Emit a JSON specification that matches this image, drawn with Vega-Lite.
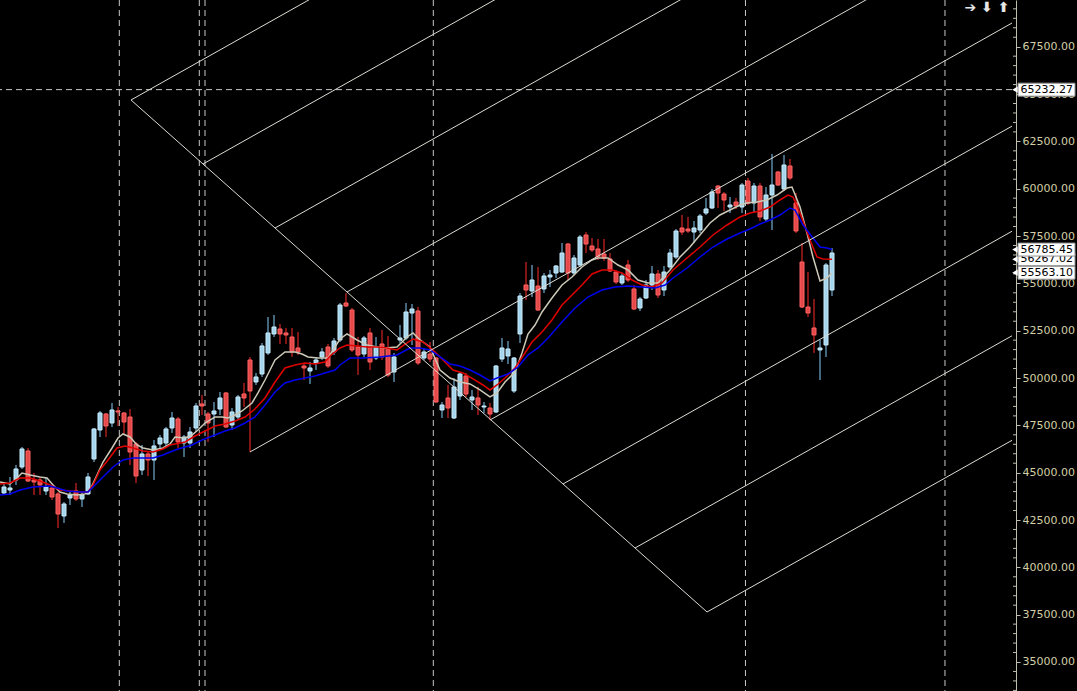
{
"$schema": "https://vega.github.io/schema/vega-lite/v6.json",
"width": 1012, "height": 691,
"autosize": {"type": "none"},
"padding": {"left": 0, "top": 0, "right": 65, "bottom": 0},
"background": "#000000",
"config": {"view": {"stroke": null}, "axis": {"grid": false}},
"datasets": {
"candles": [
{"t":0,"o":43928,"h":44508,"l":43822,"c":44244},
{"t":1,"o":44086,"h":44772,"l":43822,"c":44191},
{"t":2,"o":44614,"h":45406,"l":44350,"c":45195},
{"t":3,"o":45300,"h":46357,"l":45195,"c":46252},
{"t":4,"o":46146,"h":46304,"l":44508,"c":44561},
{"t":5,"o":44614,"h":44984,"l":43822,"c":44508},
{"t":6,"o":44614,"h":44719,"l":43822,"c":44350},
{"t":7,"o":44033,"h":44719,"l":43822,"c":44244},
{"t":8,"o":44191,"h":44350,"l":43557,"c":43716},
{"t":9,"o":43875,"h":43980,"l":42078,"c":42818},
{"t":10,"o":42712,"h":43451,"l":42343,"c":43346},
{"t":11,"o":43663,"h":43980,"l":43293,"c":43822},
{"t":12,"o":44033,"h":44456,"l":43504,"c":43610},
{"t":13,"o":43610,"h":43980,"l":43187,"c":43822},
{"t":14,"o":43875,"h":44984,"l":43822,"c":44772},
{"t":15,"o":45724,"h":47361,"l":45564,"c":47308},
{"t":16,"o":47255,"h":48258,"l":46885,"c":48153},
{"t":17,"o":48100,"h":48153,"l":46885,"c":47466},
{"t":18,"o":47625,"h":48681,"l":47413,"c":48311},
{"t":19,"o":48258,"h":48469,"l":47466,"c":48206},
{"t":20,"o":48153,"h":48206,"l":47044,"c":47677},
{"t":21,"o":47941,"h":48364,"l":45406,"c":46093},
{"t":22,"o":46516,"h":46621,"l":44456,"c":44825},
{"t":23,"o":45142,"h":46463,"l":44878,"c":45988},
{"t":24,"o":45988,"h":46093,"l":44825,"c":45670},
{"t":25,"o":45670,"h":46727,"l":44614,"c":46410},
{"t":26,"o":46516,"h":46991,"l":46304,"c":46832},
{"t":27,"o":46569,"h":47413,"l":46304,"c":47308},
{"t":28,"o":47361,"h":48206,"l":47097,"c":47888},
{"t":29,"o":47836,"h":47941,"l":46304,"c":46621},
{"t":30,"o":46569,"h":46991,"l":45829,"c":46885},
{"t":31,"o":46569,"h":47413,"l":46304,"c":47149},
{"t":32,"o":47361,"h":48681,"l":47149,"c":48522},
{"t":33,"o":48628,"h":49104,"l":48047,"c":48522},
{"t":34,"o":48100,"h":48206,"l":46621,"c":47625},
{"t":35,"o":48100,"h":48733,"l":46885,"c":48258},
{"t":36,"o":48364,"h":49262,"l":48047,"c":48945},
{"t":37,"o":49210,"h":49262,"l":47361,"c":47413},
{"t":38,"o":47519,"h":48416,"l":47255,"c":48206},
{"t":39,"o":47941,"h":49104,"l":47783,"c":48998},
{"t":40,"o":49157,"h":49738,"l":48469,"c":48945},
{"t":41,"o":50952,"h":51111,"l":46093,"c":49315},
{"t":42,"o":49790,"h":50266,"l":49632,"c":50054},
{"t":43,"o":50213,"h":51851,"l":50054,"c":51692},
{"t":44,"o":51323,"h":53223,"l":51217,"c":52379},
{"t":45,"o":52326,"h":53329,"l":52167,"c":52695},
{"t":46,"o":52590,"h":52854,"l":51798,"c":52326},
{"t":47,"o":52379,"h":52643,"l":51798,"c":52273},
{"t":48,"o":52167,"h":52643,"l":51111,"c":51375},
{"t":49,"o":51586,"h":52432,"l":51217,"c":51375},
{"t":50,"o":50635,"h":50794,"l":49896,"c":50530},
{"t":51,"o":50371,"h":50846,"l":49685,"c":50530},
{"t":52,"o":50794,"h":51111,"l":50424,"c":50952},
{"t":53,"o":51111,"h":51586,"l":50952,"c":51375},
{"t":54,"o":51639,"h":51798,"l":50530,"c":50635},
{"t":55,"o":51375,"h":52115,"l":51217,"c":51956},
{"t":56,"o":52009,"h":53963,"l":51903,"c":53857},
{"t":57,"o":53963,"h":54491,"l":53751,"c":53804},
{"t":58,"o":53593,"h":53698,"l":51375,"c":51481},
{"t":59,"o":51639,"h":52167,"l":50160,"c":51217},
{"t":60,"o":51270,"h":52220,"l":51111,"c":52115},
{"t":61,"o":52379,"h":52643,"l":50424,"c":50846},
{"t":62,"o":51058,"h":52167,"l":50952,"c":51639},
{"t":63,"o":51798,"h":52537,"l":50952,"c":51111},
{"t":64,"o":51586,"h":52220,"l":50054,"c":50160},
{"t":65,"o":50318,"h":51323,"l":49790,"c":51111},
{"t":66,"o":52009,"h":52801,"l":51851,"c":52115},
{"t":67,"o":52115,"h":53963,"l":52009,"c":53487},
{"t":68,"o":53434,"h":53910,"l":51745,"c":53645},
{"t":69,"o":53540,"h":53751,"l":50688,"c":50794},
{"t":70,"o":51058,"h":51586,"l":50952,"c":51375},
{"t":71,"o":51270,"h":51903,"l":50846,"c":51005},
{"t":72,"o":51058,"h":51111,"l":48681,"c":48733},
{"t":73,"o":48311,"h":48733,"l":47888,"c":48575},
{"t":74,"o":48945,"h":49632,"l":47888,"c":48416},
{"t":75,"o":47888,"h":50001,"l":47836,"c":49526},
{"t":76,"o":49051,"h":50318,"l":48839,"c":50213},
{"t":77,"o":50107,"h":50266,"l":48998,"c":49157},
{"t":78,"o":48839,"h":49368,"l":48311,"c":48998},
{"t":79,"o":48945,"h":49526,"l":48047,"c":48575},
{"t":80,"o":48469,"h":48733,"l":48153,"c":48522},
{"t":81,"o":48416,"h":48681,"l":47783,"c":48100},
{"t":82,"o":48206,"h":50688,"l":48153,"c":50635},
{"t":83,"o":51005,"h":52115,"l":50846,"c":51586},
{"t":84,"o":51164,"h":51956,"l":50741,"c":51534},
{"t":85,"o":49315,"h":51111,"l":49210,"c":51058},
{"t":86,"o":52326,"h":54491,"l":51851,"c":54332},
{"t":87,"o":54914,"h":56128,"l":54121,"c":54649},
{"t":88,"o":54596,"h":55970,"l":54279,"c":55178},
{"t":89,"o":54861,"h":55864,"l":53540,"c":53593},
{"t":90,"o":54703,"h":55547,"l":54491,"c":55389},
{"t":91,"o":55336,"h":55706,"l":54808,"c":55442},
{"t":92,"o":55547,"h":55970,"l":55283,"c":55917},
{"t":93,"o":55600,"h":57131,"l":55547,"c":56603},
{"t":94,"o":57079,"h":57131,"l":55178,"c":55547},
{"t":95,"o":55547,"h":56497,"l":55442,"c":56339},
{"t":96,"o":55970,"h":57554,"l":55864,"c":57448},
{"t":97,"o":57554,"h":57712,"l":56603,"c":57079},
{"t":98,"o":56973,"h":57396,"l":56656,"c":56762},
{"t":99,"o":56815,"h":57343,"l":56234,"c":56392},
{"t":100,"o":56550,"h":57343,"l":56181,"c":56339},
{"t":101,"o":56287,"h":56603,"l":55600,"c":55653},
{"t":102,"o":55600,"h":55706,"l":54966,"c":55072},
{"t":103,"o":55019,"h":55547,"l":54914,"c":55389},
{"t":104,"o":55970,"h":56234,"l":55072,"c":55178},
{"t":105,"o":54703,"h":54914,"l":53593,"c":53645},
{"t":106,"o":53698,"h":54279,"l":53540,"c":54174},
{"t":107,"o":54226,"h":55178,"l":54174,"c":54914},
{"t":108,"o":54914,"h":55917,"l":54649,"c":55494},
{"t":109,"o":55494,"h":55706,"l":54226,"c":54385},
{"t":110,"o":54649,"h":55917,"l":54332,"c":55600},
{"t":111,"o":55864,"h":56815,"l":55759,"c":56603},
{"t":112,"o":56392,"h":57871,"l":56287,"c":57765},
{"t":113,"o":57924,"h":58611,"l":57554,"c":57712},
{"t":114,"o":57871,"h":58506,"l":57660,"c":57765},
{"t":115,"o":57712,"h":58294,"l":57131,"c":57924},
{"t":116,"o":57818,"h":58664,"l":57660,"c":58558},
{"t":117,"o":58716,"h":59509,"l":58611,"c":58928},
{"t":118,"o":58981,"h":59984,"l":58928,"c":59826},
{"t":119,"o":60142,"h":60195,"l":58981,"c":59773},
{"t":120,"o":59720,"h":59826,"l":58822,"c":59403},
{"t":121,"o":59033,"h":59562,"l":58716,"c":59139},
{"t":122,"o":59297,"h":59509,"l":58928,"c":59086},
{"t":123,"o":59033,"h":60301,"l":58716,"c":60195},
{"t":124,"o":60406,"h":60565,"l":59139,"c":59245},
{"t":125,"o":59245,"h":60301,"l":58716,"c":60142},
{"t":126,"o":60142,"h":60301,"l":58294,"c":58506},
{"t":127,"o":58400,"h":60089,"l":58241,"c":59667},
{"t":128,"o":59667,"h":61833,"l":57818,"c":60195},
{"t":129,"o":60882,"h":60934,"l":60142,"c":60195},
{"t":130,"o":59984,"h":61780,"l":59878,"c":61252},
{"t":131,"o":61199,"h":61569,"l":60459,"c":60565},
{"t":132,"o":59245,"h":59773,"l":57660,"c":57765},
{"t":133,"o":56128,"h":57131,"l":53698,"c":53751},
{"t":134,"o":53751,"h":55600,"l":53223,"c":53434},
{"t":135,"o":52643,"h":54174,"l":51323,"c":52273},
{"t":136,"o":51481,"h":52009,"l":49896,"c":51586},
{"t":137,"o":51745,"h":56075,"l":51111,"c":55970},
{"t":138,"o":54649,"h":56867,"l":54332,"c":56603}
],
"ma": [
{"k":"fast","t":-0.67,"v":44508},{"k":"fast","t":1,"v":44403},{"k":"fast","t":1.83,"v":44614},{"k":"fast","t":3,"v":44984},{"k":"fast","t":4.33,"v":44878},{"k":"fast","t":6,"v":44772},{"k":"fast","t":7.17,"v":44719},{"k":"fast","t":8.17,"v":44350},{"k":"fast","t":9.33,"v":43980},{"k":"fast","t":10.5,"v":43875},{"k":"fast","t":12.17,"v":43822},{"k":"fast","t":13.5,"v":43875},{"k":"fast","t":14.33,"v":44086},{"k":"fast","t":15.5,"v":44878},{"k":"fast","t":16.5,"v":45564},{"k":"fast","t":18,"v":46304},{"k":"fast","t":19,"v":46832},{"k":"fast","t":19.83,"v":47044},{"k":"fast","t":21,"v":46885},{"k":"fast","t":22.17,"v":46463},{"k":"fast","t":23.17,"v":46304},{"k":"fast","t":24.83,"v":46199},{"k":"fast","t":26.5,"v":46304},{"k":"fast","t":27.67,"v":46516},{"k":"fast","t":28.5,"v":46885},{"k":"fast","t":30.17,"v":46832},{"k":"fast","t":31.33,"v":46991},{"k":"fast","t":32.33,"v":47255},{"k":"fast","t":33.5,"v":47625},{"k":"fast","t":35.17,"v":47941},{"k":"fast","t":36.33,"v":47941},{"k":"fast","t":37.33,"v":47888},{"k":"fast","t":38.5,"v":48047},{"k":"fast","t":39.67,"v":48258},{"k":"fast","t":41.33,"v":48681},{"k":"fast","t":42.33,"v":49210},{"k":"fast","t":43.5,"v":49896},{"k":"fast","t":45.17,"v":50952},{"k":"fast","t":46.83,"v":51375},{"k":"fast","t":48.5,"v":51375},{"k":"fast","t":49.67,"v":51270},{"k":"fast","t":50.67,"v":51111},{"k":"fast","t":52.33,"v":51058},{"k":"fast","t":54,"v":51058},{"k":"fast","t":54.33,"v":51217},{"k":"fast","t":56,"v":52062},{"k":"fast","t":57.17,"v":52326},{"k":"fast","t":58.83,"v":52009},{"k":"fast","t":60.5,"v":51745},{"k":"fast","t":62.17,"v":51639},{"k":"fast","t":63.5,"v":51586},{"k":"fast","t":65.5,"v":51639},{"k":"fast","t":67.17,"v":52167},{"k":"fast","t":68.17,"v":52379},{"k":"fast","t":69.33,"v":52009},{"k":"fast","t":71,"v":51639},{"k":"fast","t":72.67,"v":50424},{"k":"fast","t":74.33,"v":50001},{"k":"fast","t":76,"v":49790},{"k":"fast","t":77.67,"v":49685},{"k":"fast","t":79.33,"v":49368},{"k":"fast","t":81,"v":48998},{"k":"fast","t":82.17,"v":49210},{"k":"fast","t":83.5,"v":49790},{"k":"fast","t":85.17,"v":50318},{"k":"fast","t":86.33,"v":51323},{"k":"fast","t":87.33,"v":52326},{"k":"fast","t":88.5,"v":52801},{"k":"fast","t":89.67,"v":53487},{"k":"fast","t":91.33,"v":54226},{"k":"fast","t":93,"v":54914},{"k":"fast","t":94.67,"v":55336},{"k":"fast","t":96.33,"v":55864},{"k":"fast","t":98,"v":56234},{"k":"fast","t":99,"v":56339},{"k":"fast","t":100.67,"v":56339},{"k":"fast","t":102.33,"v":55970},{"k":"fast","t":104,"v":55706},{"k":"fast","t":105.67,"v":55178},{"k":"fast","t":107.33,"v":55019},{"k":"fast","t":109,"v":55019},{"k":"fast","t":111,"v":55706},{"k":"fast","t":112.67,"v":56392},{"k":"fast","t":114.33,"v":56920},{"k":"fast","t":116,"v":57554},{"k":"fast","t":117.67,"v":58189},{"k":"fast","t":119.33,"v":58611},{"k":"fast","t":121,"v":58875},{"k":"fast","t":122.67,"v":59139},{"k":"fast","t":123.83,"v":59245},{"k":"fast","t":125.5,"v":59297},{"k":"fast","t":127.17,"v":59403},{"k":"fast","t":128.83,"v":59667},{"k":"fast","t":130.5,"v":60036},{"k":"fast","t":131.33,"v":60089},{"k":"fast","t":132.67,"v":59033},{"k":"fast","t":133.83,"v":57660},{"k":"fast","t":134.83,"v":56392},{"k":"fast","t":136,"v":55125},{"k":"fast","t":137.17,"v":55283},{"k":"fast","t":138,"v":55563.1},
{"k":"mid","t":-0.67,"v":44403},{"k":"mid","t":1,"v":44456},{"k":"mid","t":2.67,"v":44719},{"k":"mid","t":4.33,"v":44719},{"k":"mid","t":6,"v":44561},{"k":"mid","t":7.67,"v":44350},{"k":"mid","t":9.33,"v":44086},{"k":"mid","t":11,"v":44033},{"k":"mid","t":12.67,"v":43980},{"k":"mid","t":14,"v":43980},{"k":"mid","t":14.83,"v":44350},{"k":"mid","t":16,"v":45142},{"k":"mid","t":17.33,"v":45670},{"k":"mid","t":18.83,"v":46304},{"k":"mid","t":20.17,"v":46410},{"k":"mid","t":21.5,"v":46304},{"k":"mid","t":23.17,"v":46146},{"k":"mid","t":24.83,"v":46093},{"k":"mid","t":26.5,"v":46252},{"k":"mid","t":27.67,"v":46463},{"k":"mid","t":28.5,"v":46516},{"k":"mid","t":30.17,"v":46621},{"k":"mid","t":31.83,"v":46938},{"k":"mid","t":33.5,"v":47202},{"k":"mid","t":35.17,"v":47466},{"k":"mid","t":36.83,"v":47572},{"k":"mid","t":38.5,"v":47730},{"k":"mid","t":40.17,"v":47941},{"k":"mid","t":41.83,"v":48364},{"k":"mid","t":43.5,"v":48945},{"k":"mid","t":45.17,"v":49790},{"k":"mid","t":46.83,"v":50530},{"k":"mid","t":48.5,"v":50688},{"k":"mid","t":50.17,"v":50794},{"k":"mid","t":51.83,"v":50741},{"k":"mid","t":53.5,"v":50846},{"k":"mid","t":54.33,"v":51164},{"k":"mid","t":56,"v":51586},{"k":"mid","t":57.17,"v":51745},{"k":"mid","t":58.83,"v":51692},{"k":"mid","t":60.5,"v":51639},{"k":"mid","t":62.17,"v":51639},{"k":"mid","t":63.83,"v":51586},{"k":"mid","t":65.5,"v":51481},{"k":"mid","t":67.17,"v":51851},{"k":"mid","t":68.17,"v":52062},{"k":"mid","t":69.83,"v":51903},{"k":"mid","t":71.5,"v":51481},{"k":"mid","t":73.17,"v":50952},{"k":"mid","t":74.83,"v":50424},{"k":"mid","t":76.5,"v":50266},{"k":"mid","t":78.17,"v":49949},{"k":"mid","t":79.83,"v":49632},{"k":"mid","t":81,"v":49368},{"k":"mid","t":82.17,"v":49632},{"k":"mid","t":83.5,"v":50001},{"k":"mid","t":85.17,"v":50530},{"k":"mid","t":86.83,"v":51323},{"k":"mid","t":88,"v":51903},{"k":"mid","t":89.67,"v":52432},{"k":"mid","t":91.33,"v":53065},{"k":"mid","t":93,"v":53857},{"k":"mid","t":94.67,"v":54385},{"k":"mid","t":96.33,"v":54914},{"k":"mid","t":98,"v":55494},{"k":"mid","t":99.67,"v":55706},{"k":"mid","t":101.33,"v":55706},{"k":"mid","t":103,"v":55547},{"k":"mid","t":104.67,"v":55178},{"k":"mid","t":106.33,"v":54914},{"k":"mid","t":108,"v":54808},{"k":"mid","t":109.67,"v":55019},{"k":"mid","t":111.5,"v":55706},{"k":"mid","t":113.83,"v":56339},{"k":"mid","t":116,"v":56920},{"k":"mid","t":118.17,"v":57554},{"k":"mid","t":120.5,"v":58083},{"k":"mid","t":122.67,"v":58506},{"k":"mid","t":124.33,"v":58716},{"k":"mid","t":126,"v":58822},{"k":"mid","t":127.67,"v":59033},{"k":"mid","t":129.33,"v":59403},{"k":"mid","t":130.67,"v":59667},{"k":"mid","t":131.5,"v":59562},{"k":"mid","t":132.67,"v":58716},{"k":"mid","t":134.33,"v":57290},{"k":"mid","t":135.5,"v":56392},{"k":"mid","t":136.5,"v":56287},{"k":"mid","t":138,"v":56267.02},
{"k":"slow","t":-0.67,"v":43822},{"k":"slow","t":1,"v":43875},{"k":"slow","t":2.67,"v":44086},{"k":"slow","t":4.83,"v":44244},{"k":"slow","t":7.67,"v":44297},{"k":"slow","t":8.83,"v":44191},{"k":"slow","t":10.5,"v":44033},{"k":"slow","t":12.67,"v":43980},{"k":"slow","t":14,"v":43980},{"k":"slow","t":14.83,"v":44244},{"k":"slow","t":16.5,"v":44772},{"k":"slow","t":18.17,"v":45300},{"k":"slow","t":19.83,"v":45670},{"k":"slow","t":21.5,"v":45776},{"k":"slow","t":23.17,"v":45776},{"k":"slow","t":24.83,"v":45776},{"k":"slow","t":26.5,"v":45934},{"k":"slow","t":27.67,"v":46093},{"k":"slow","t":29,"v":46252},{"k":"slow","t":31.33,"v":46463},{"k":"slow","t":33,"v":46727},{"k":"slow","t":35.17,"v":46991},{"k":"slow","t":36.83,"v":47202},{"k":"slow","t":38.5,"v":47361},{"k":"slow","t":40.17,"v":47625},{"k":"slow","t":41.83,"v":47941},{"k":"slow","t":43.5,"v":48575},{"k":"slow","t":45.17,"v":49262},{"k":"slow","t":46.83,"v":49738},{"k":"slow","t":48.5,"v":49896},{"k":"slow","t":50.17,"v":50001},{"k":"slow","t":51.83,"v":50107},{"k":"slow","t":53.5,"v":50266},{"k":"slow","t":55.17,"v":50424},{"k":"slow","t":56,"v":50688},{"k":"slow","t":57.67,"v":51058},{"k":"slow","t":59.83,"v":51058},{"k":"slow","t":62.67,"v":51111},{"k":"slow","t":65.5,"v":51217},{"k":"slow","t":67.67,"v":51586},{"k":"slow","t":69.33,"v":51586},{"k":"slow","t":71,"v":51481},{"k":"slow","t":72.67,"v":51111},{"k":"slow","t":74.33,"v":50741},{"k":"slow","t":76,"v":50635},{"k":"slow","t":77.67,"v":50424},{"k":"slow","t":79.33,"v":50160},{"k":"slow","t":81,"v":49843},{"k":"slow","t":82.17,"v":50001},{"k":"slow","t":84,"v":50213},{"k":"slow","t":85.67,"v":50582},{"k":"slow","t":87.33,"v":51217},{"k":"slow","t":89,"v":51586},{"k":"slow","t":90.67,"v":52115},{"k":"slow","t":93,"v":52960},{"k":"slow","t":95.17,"v":53698},{"k":"slow","t":97.33,"v":54279},{"k":"slow","t":99.67,"v":54649},{"k":"slow","t":101.83,"v":54808},{"k":"slow","t":104,"v":54861},{"k":"slow","t":106.33,"v":54808},{"k":"slow","t":108.5,"v":54755},{"k":"slow","t":110.17,"v":54914},{"k":"slow","t":111.5,"v":55283},{"k":"slow","t":113.83,"v":55811},{"k":"slow","t":116,"v":56392},{"k":"slow","t":118.17,"v":56920},{"k":"slow","t":120.5,"v":57343},{"k":"slow","t":122.67,"v":57660},{"k":"slow","t":124.33,"v":57871},{"k":"slow","t":126,"v":58135},{"k":"slow","t":127.67,"v":58347},{"k":"slow","t":129.33,"v":58611},{"k":"slow","t":131,"v":58981},{"k":"slow","t":131.83,"v":58875},{"k":"slow","t":133.17,"v":58083},{"k":"slow","t":134.83,"v":57396},{"k":"slow","t":136,"v":56920},{"k":"slow","t":137.17,"v":56867},{"k":"slow","t":138,"v":56785.45}
],
"vlines": [{"t":19.22},{"t":32.55},{"t":33.5},{"t":71.55},{"t":123.58},{"t":156.83}],
"hlines": [{"p":65232.27}],
"minor": [{"p":33500},{"p":34000},{"p":34500},{"p":35500},{"p":36000},{"p":36500},{"p":37000},{"p":38000},{"p":38500},{"p":39000},{"p":39500},{"p":40500},{"p":41000},{"p":41500},{"p":42000},{"p":43000},{"p":43500},{"p":44000},{"p":44500},{"p":45500},{"p":46000},{"p":46500},{"p":47000},{"p":48000},{"p":48500},{"p":49000},{"p":49500},{"p":50500},{"p":51000},{"p":51500},{"p":52000},{"p":53000},{"p":53500},{"p":54000},{"p":54500},{"p":55500},{"p":56000},{"p":56500},{"p":57000},{"p":58000},{"p":58500},{"p":59000},{"p":59500},{"p":60500},{"p":61000},{"p":61500},{"p":62000},{"p":63000},{"p":63500},{"p":64000},{"p":64500},{"p":65500},{"p":66000},{"p":66500},{"p":67000},{"p":68000},{"p":68500},{"p":69000},{"p":69500}],
"fork": [
{"id":"base","t":21.17,"p":64685},{"id":"base","t":117.17,"p":37641},
{"id":"a","t":21.17,"p":64685},{"id":"a","t":168,"p":90880},
{"id":"b","t":33.17,"p":61305},{"id":"b","t":168,"p":85359},
{"id":"c","t":45.17,"p":57924},{"id":"c","t":168,"p":79837},
{"id":"d","t":57.17,"p":54543},{"id":"d","t":168,"p":74315},
{"id":"e","t":41,"p":46093},{"id":"e","t":168,"p":68750},
{"id":"f","t":81,"p":47783},{"id":"f","t":168,"p":63304},
{"id":"g","t":93.17,"p":44403},{"id":"g","t":168,"p":57753},
{"id":"h","t":105.17,"p":41022},{"id":"h","t":168,"p":52231},
{"id":"i","t":117.17,"p":37641},{"id":"i","t":168,"p":46709}
],
"tags": [
{"p":65232.27,"s":"65232.27","g":1},
{"p":56267.02,"s":"56267.02","g":1},
{"p":56785.45,"s":"56785.45","g":2},
{"p":55563.10,"s":"55563.10","g":2}
],
"icons": [{"t":163.83,"p":69530,"s":"➔ ⬇ ⬆"}]
},
"layer": [
{"data":{"name":"candles"},"mark":{"type":"rule","strokeWidth":1},
 "encoding":{"x":{"field":"t","type":"quantitative","scale":{"domain":[-0.667,168],"nice":false,"zero":false,"padding":0},"axis":null},
  "y":{"field":"l","type":"quantitative","scale":{"domain":[33468,69967],"nice":false,"zero":false,"padding":0},
   "axis":{"orient":"right","title":null,"offset":4,
    "values":[35000,37500,40000,42500,45000,47500,50000,52500,55000,57500,60000,62500,65000,67500],
    "format":".2f",
    "labelColor":"#d2cfa6","labelFont":"DejaVu Sans","labelFontSize":11,"labelPadding":2,"labelOverlap":false,"labelFlush":false,
    "tickColor":"#bdbdb0","domainColor":"#bdbdb0","tickSize":4}},
  "y2":{"field":"h"},
  "color":{"condition":{"test":"datum.c >= datum.o","value":"#87cefa"},"value":"#ff2a2a"}}},
{"data":{"name":"vlines"},"mark":{"type":"rule","color":"#c8c8c8","strokeDash":[6,4],"strokeWidth":1},
 "encoding":{"x":{"field":"t","type":"quantitative","scale":{"domain":[-0.667,168],"nice":false,"zero":false,"padding":0},"axis":null}}},
{"data":{"name":"hlines"},"mark":{"type":"rule","color":"#c8c8c8","strokeDash":[6,4],"strokeWidth":1},
 "encoding":{"y":{"field":"p","type":"quantitative","scale":{"domain":[33468,69967],"nice":false,"zero":false,"padding":0},"axis":{"title":null}}}},
{"data":{"name":"minor"},"mark":{"type":"rule","color":"#bdbdb0","strokeWidth":1},
 "encoding":{"x":{"datum":168.17,"type":"quantitative","scale":{"domain":[-0.667,168],"nice":false,"zero":false,"padding":0},"axis":null},
  "x2":{"datum":168.67},
  "y":{"field":"p","type":"quantitative","scale":{"domain":[33468,69967],"nice":false,"zero":false,"padding":0},"axis":{"title":null}}}},
{"data":{"name":"candles"},"mark":{"type":"bar","width":4,"orient":"vertical","strokeWidth":1},
 "encoding":{"x":{"field":"t","type":"quantitative","scale":{"domain":[-0.667,168],"nice":false,"zero":false,"padding":0},"axis":null},
  "y":{"field":"o","type":"quantitative","scale":{"domain":[33468,69967],"nice":false,"zero":false,"padding":0},"axis":{"title":null}},
  "y2":{"field":"c"},
  "fill":{"condition":{"test":"datum.c >= datum.o","value":"#a5d5ec"},"value":"#e54848"},
  "stroke":{"condition":{"test":"datum.c >= datum.o","value":"#c9ecfb"},"value":"#ff6262"}}},
{"data":{"name":"ma"},"mark":{"type":"line","strokeWidth":1.5,"clip":true},
 "encoding":{"x":{"field":"t","type":"quantitative","scale":{"domain":[-0.667,168],"nice":false,"zero":false,"padding":0},"axis":null},
  "y":{"field":"v","type":"quantitative","scale":{"domain":[33468,69967],"nice":false,"zero":false,"padding":0},"axis":{"title":null}},
  "color":{"field":"k","type":"nominal","scale":{"domain":["slow","mid","fast"],"range":["#0000ee","#e00000","#cdc9b8"]},"legend":null},
  "order":{"field":"t","type":"quantitative"}}},
{"data":{"name":"fork"},"mark":{"type":"line","color":"#dcdcd4","strokeWidth":1,"clip":true},
 "encoding":{"x":{"field":"t","type":"quantitative","scale":{"domain":[-0.667,168],"nice":false,"zero":false,"padding":0},"axis":null},
  "y":{"field":"p","type":"quantitative","scale":{"domain":[33468,69967],"nice":false,"zero":false,"padding":0},"axis":{"title":null}},
  "detail":{"field":"id","type":"nominal"},
  "order":{"field":"t","type":"quantitative"}}},
{"data":{"name":"tags"},"transform":[{"filter":"datum.g === 1"}],
 "layer":[
  {"mark":{"type":"point","shape":"triangle-left","filled":true,"size":60,"color":"#ffffff","opacity":1},
   "encoding":{"x":{"datum":168.6,"type":"quantitative","scale":{"domain":[-0.667,168],"nice":false,"zero":false,"padding":0},"axis":null},
    "y":{"field":"p","type":"quantitative","scale":{"domain":[33468,69967],"nice":false,"zero":false,"padding":0},"axis":{"title":null}}}},
  {"mark":{"type":"rect","height":13,"fill":"#ffffff","stroke":"#909090","strokeWidth":1},
   "encoding":{"x":{"datum":169.0,"type":"quantitative","scale":{"domain":[-0.667,168],"nice":false,"zero":false,"padding":0},"axis":null},
    "x2":{"datum":178.5},
    "y":{"field":"p","type":"quantitative","scale":{"domain":[33468,69967],"nice":false,"zero":false,"padding":0},"axis":{"title":null}}}},
  {"mark":{"type":"text","font":"DejaVu Sans","fontSize":11,"color":"#000000","align":"center","baseline":"middle"},
   "encoding":{"x":{"datum":173.8,"type":"quantitative","scale":{"domain":[-0.667,168],"nice":false,"zero":false,"padding":0},"axis":null},
    "y":{"field":"p","type":"quantitative","scale":{"domain":[33468,69967],"nice":false,"zero":false,"padding":0},"axis":{"title":null}},
    "text":{"field":"s"}}}
 ]},
{"data":{"name":"tags"},"transform":[{"filter":"datum.g === 2"}],
 "layer":[
  {"mark":{"type":"point","shape":"triangle-left","filled":true,"size":60,"color":"#ffffff","opacity":1},
   "encoding":{"x":{"datum":168.6,"type":"quantitative","scale":{"domain":[-0.667,168],"nice":false,"zero":false,"padding":0},"axis":null},
    "y":{"field":"p","type":"quantitative","scale":{"domain":[33468,69967],"nice":false,"zero":false,"padding":0},"axis":{"title":null}}}},
  {"mark":{"type":"rect","height":13,"fill":"#ffffff","stroke":"#909090","strokeWidth":1},
   "encoding":{"x":{"datum":169.0,"type":"quantitative","scale":{"domain":[-0.667,168],"nice":false,"zero":false,"padding":0},"axis":null},
    "x2":{"datum":178.5},
    "y":{"field":"p","type":"quantitative","scale":{"domain":[33468,69967],"nice":false,"zero":false,"padding":0},"axis":{"title":null}}}},
  {"mark":{"type":"text","font":"DejaVu Sans","fontSize":11,"color":"#000000","align":"center","baseline":"middle"},
   "encoding":{"x":{"datum":173.8,"type":"quantitative","scale":{"domain":[-0.667,168],"nice":false,"zero":false,"padding":0},"axis":null},
    "y":{"field":"p","type":"quantitative","scale":{"domain":[33468,69967],"nice":false,"zero":false,"padding":0},"axis":{"title":null}},
    "text":{"field":"s"}}}
 ]},
{"data":{"name":"icons"},"mark":{"type":"text","font":"DejaVu Sans","fontSize":14,"fontWeight":"bold","color":"#e6e6e6","align":"center","baseline":"middle"},
 "encoding":{"x":{"field":"t","type":"quantitative","scale":{"domain":[-0.667,168],"nice":false,"zero":false,"padding":0},"axis":null},
  "y":{"field":"p","type":"quantitative","scale":{"domain":[33468,69967],"nice":false,"zero":false,"padding":0},"axis":{"title":null}},
  "text":{"field":"s"}}}
]
}
